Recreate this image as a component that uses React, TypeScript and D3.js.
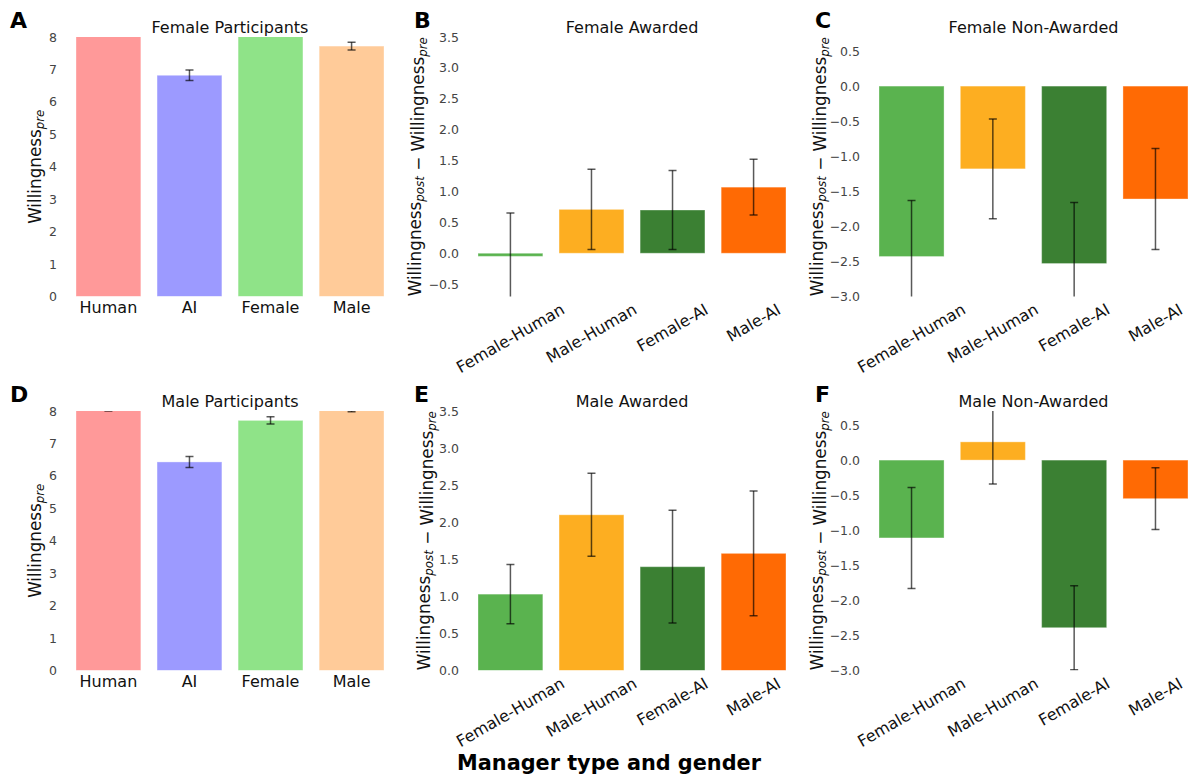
import React, { useEffect, useRef } from "react";
import * as d3 from "d3";

const participantCats = ["Human", "AI", "Female", "Male"];
const participantColors = ["#ff9999", "#9c9aff", "#8fe388", "#ffcb99"];
const femalePartMeans = [8.35, 6.82, 8.3, 7.72];
const femalePartErr = [0.15, 0.16, 0.15, 0.12];
const malePartMeans = [8.13, 6.43, 7.71, 8.11];
const malePartErr = [0.13, 0.17, 0.11, 0.13];

const managerCats = ["Female-Human", "Male-Human", "Female-AI", "Male-AI"];
const managerColors = ["#5ab34f", "#fdae21", "#3b8033", "#ff6a04"];
const femAwMeans = [-0.05, 0.71, 0.7, 1.07];
const femAwErr = [0.7, 0.65, 0.64, 0.45];
const femNonMeans = [-2.43, -1.18, -2.53, -1.61];
const femNonErr = [0.8, 0.71, 0.87, 0.72];
const maleAwMeans = [1.03, 2.1, 1.4, 1.58];
const maleAwErr = [0.4, 0.56, 0.76, 0.84];
const maleNonMeans = [-1.11, 0.26, -2.39, -0.55];
const maleNonErr = [0.72, 0.6, 0.6, 0.44];

const ticksParticipants = [0, 1, 2, 3, 4, 5, 6, 7, 8];
const ticksAwarded = [-0.5, 0, 0.5, 1, 1.5, 2, 2.5, 3, 3.5];
const ticksAwardedMale = [0, 0.5, 1, 1.5, 2, 2.5, 3, 3.5];
const ticksNon = [-3, -2.5, -2, -1.5, -1, -0.5, 0, 0.5];

const FONT = "DejaVu Sans, sans-serif";

type Panel = {
  id: string;
  letter: string;
  title: string;
  cats: string[];
  colors: string[];
  means: number[];
  errs: number[];
  ydom: [number, number];
  ticks: number[];
  fmt: (v: number) => string;
  kind: "pre" | "diff";
  x0: number;
  x1: number;
  y0: number;
  y1: number;
  letterX: number;
  labelX: number;
};

const fmtInt = (v: number) => String(v);
const fmt1 = (v: number) => (v < 0 ? "\u2212" : "") + Math.abs(v).toFixed(1);

export default function App() {
  const ref = useRef<SVGSVGElement | null>(null);

  useEffect(() => {
    document.body.style.margin = "0";
    const svg = d3.select(ref.current);
    svg.selectAll("*").remove();

    const topY0 = 37, topY1 = 296.5, botY0 = 411, botY1 = 670.5;
    const colA: [number, number] = [76, 384];
    const colB: [number, number] = [478, 786];
    const colC: [number, number] = [879, 1188];

    const panels: Panel[] = [
      { id: "A", letter: "A", title: "Female Participants", cats: participantCats, colors: participantColors, means: femalePartMeans, errs: femalePartErr, ydom: [0, 8], ticks: ticksParticipants, fmt: fmtInt, kind: "pre", x0: colA[0], x1: colA[1], y0: topY0, y1: topY1, letterX: 10, labelX: 41 },
      { id: "B", letter: "B", title: "Female Awarded", cats: managerCats, colors: managerColors, means: femAwMeans, errs: femAwErr, ydom: [-0.7, 3.5], ticks: ticksAwarded, fmt: fmt1, kind: "diff", x0: colB[0], x1: colB[1], y0: topY0, y1: topY1, letterX: 414, labelX: 421 },
      { id: "C", letter: "C", title: "Female Non-Awarded", cats: managerCats, colors: managerColors, means: femNonMeans, errs: femNonErr, ydom: [-3, 0.7], ticks: ticksNon, fmt: fmt1, kind: "diff", x0: colC[0], x1: colC[1], y0: topY0, y1: topY1, letterX: 815, labelX: 823 },
      { id: "D", letter: "D", title: "Male Participants", cats: participantCats, colors: participantColors, means: malePartMeans, errs: malePartErr, ydom: [0, 8], ticks: ticksParticipants, fmt: fmtInt, kind: "pre", x0: colA[0], x1: colA[1], y0: botY0, y1: botY1, letterX: 10, labelX: 41 },
      { id: "E", letter: "E", title: "Male Awarded", cats: managerCats, colors: managerColors, means: maleAwMeans, errs: maleAwErr, ydom: [0, 3.5], ticks: ticksAwardedMale, fmt: fmt1, kind: "diff", x0: colB[0], x1: colB[1], y0: botY0, y1: botY1, letterX: 414, labelX: 430 },
      { id: "F", letter: "F", title: "Male Non-Awarded", cats: managerCats, colors: managerColors, means: maleNonMeans, errs: maleNonErr, ydom: [-3, 0.7], ticks: ticksNon, fmt: fmt1, kind: "diff", x0: colC[0], x1: colC[1], y0: botY0, y1: botY1, letterX: 815, labelX: 823 },
    ];

    const defs = svg.append("defs");

    panels.forEach((p) => {
      const x = d3.scaleLinear().domain([-0.4, p.cats.length - 0.6]).range([p.x0, p.x1]);
      const y = d3.scaleLinear().domain(p.ydom).range([p.y1, p.y0]);
      const clipId = "clip" + p.id;
      defs.append("clipPath").attr("id", clipId)
        .append("rect").attr("x", p.x0 - 10).attr("y", p.y0).attr("width", p.x1 - p.x0 + 20).attr("height", p.y1 - p.y0);

      const g = svg.append("g");

      // y tick labels
      g.selectAll("text.yt").data(p.ticks).enter().append("text")
        .attr("x", p.x0 - 19).attr("y", (d) => y(d))
        .attr("text-anchor", "end").attr("dominant-baseline", "central")
        .attr("font-family", FONT).attr("font-size", 12.5).attr("fill", "#444")
        .text((d) => p.fmt(d));

      // bars
      const plot = g.append("g").attr("clip-path", `url(#${clipId})`);
      plot.selectAll("rect.bar").data(p.means).enter().append("rect")
        .attr("x", (_, i) => x(i - 0.4))
        .attr("width", (_, i) => x(i + 0.4) - x(i - 0.4))
        .attr("y", (d) => Math.min(y(d), y(0)))
        .attr("height", (d) => Math.abs(y(d) - y(0)))
        .attr("fill", (_, i) => p.colors[i])
        .attr("stroke", "#ffffff").attr("stroke-opacity", 0.35).attr("stroke-width", 1);

      // error bars
      p.means.forEach((m, i) => {
        const cx = x(i);
        const lo = y(m - p.errs[i]);
        const hi = y(m + p.errs[i]);
        const eg = plot.append("g").attr("stroke", "#000").attr("stroke-opacity", 0.65).attr("stroke-width", 1.5);
        eg.append("line").attr("x1", cx).attr("x2", cx).attr("y1", lo).attr("y2", hi);
        eg.append("line").attr("x1", cx - 4).attr("x2", cx + 4).attr("y1", lo).attr("y2", lo);
        eg.append("line").attr("x1", cx - 4).attr("x2", cx + 4).attr("y1", hi).attr("y2", hi);
      });

      // x tick labels
      if (p.kind === "pre") {
        g.selectAll("text.xt").data(p.cats).enter().append("text")
          .attr("x", (_, i) => x(i)).attr("y", p.y1 + 16)
          .attr("text-anchor", "middle")
          .attr("font-family", FONT).attr("font-size", 16).attr("fill", "#111")
          .text((d) => d);
      } else {
        p.cats.forEach((c, i) => {
          const t = g.append("text")
            .attr("text-anchor", "middle").attr("dominant-baseline", "central")
            .attr("font-family", FONT).attr("font-size", 16).attr("fill", "#111")
            .text(c);
          const node = t.node() as SVGTextElement;
          const L = node.getComputedTextLength();
          const lineH = 18.5;
          const bh = L * Math.sin(Math.PI / 6) + lineH * Math.cos(Math.PI / 6);
          const cy = p.y1 + 3.5 + bh / 2;
          const cx = x(i);
          t.attr("x", cx).attr("y", cy).attr("transform", `rotate(-30, ${cx}, ${cy})`);
        });
      }

      // title
      g.append("text")
        .attr("x", (p.x0 + p.x1) / 2).attr("y", p.y0 - 4.5)
        .attr("text-anchor", "middle")
        .attr("font-family", FONT).attr("font-size", 16).attr("fill", "#111")
        .text(p.title);

      // panel letter
      g.append("text")
        .attr("x", p.letterX).attr("y", p.y0 - 9)
        .attr("font-family", FONT).attr("font-size", 22).attr("font-weight", "bold").attr("fill", "#000")
        .text(p.letter);

      // y label
      const cy = (p.y0 + p.y1) / 2;
      const yl = g.append("text")
        .attr("transform", `translate(${p.labelX}, ${cy}) rotate(-90)`)
        .attr("text-anchor", "middle")
        .attr("font-family", FONT).attr("font-size", 16.8).attr("fill", "#111");
      const addSub = (txt: string) => {
        yl.append("tspan").attr("dy", 3).attr("font-size", 11.8).attr("font-style", "italic").text(txt);
        yl.append("tspan").attr("dy", -3).text("");
      };
      if (p.kind === "pre") {
        yl.append("tspan").text("Willingness");
        addSub("pre");
      } else {
        yl.append("tspan").text("Willingness");
        addSub("post");
        yl.append("tspan").text(" \u2212 Willingness");
        addSub("pre");
      }
    });

    svg.append("text")
      .attr("x", 609).attr("y", 770)
      .attr("text-anchor", "middle")
      .attr("font-family", FONT).attr("font-size", 20.8).attr("font-weight", "bold").attr("fill", "#000")
      .text("Manager type and gender");
  }, []);

  return (
    <svg ref={ref} width={1192} height={778} style={{ display: "block", background: "#fff" }} />
  );
}
